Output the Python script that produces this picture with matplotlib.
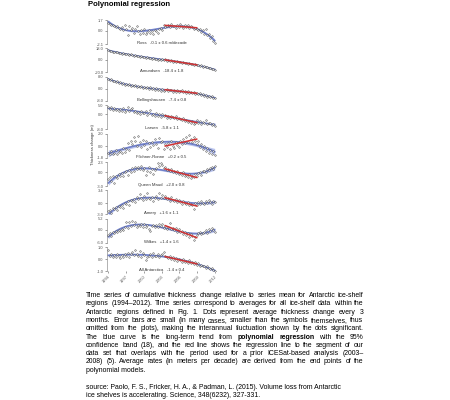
import numpy as np
import matplotlib
matplotlib.use("Agg")
import matplotlib.pyplot as plt

plt.rcParams['font.family'] = ['Liberation Sans', 'DejaVu Sans']

# ---------------------------------------------------------------- data
regions = ['Ross', 'Amundsen', 'Bellingshausen', 'Larsen', 'Filchner-Ronne',
           'Queen Maud', 'Amery', 'Wilkes', 'All Antarctica']
rates = ['-0.1 \u00b1 0.6 m/decade', '-18.4 \u00b1 1.8', '-7.4 \u00b1 0.8',
         '-5.8 \u00b1 1.1', '+0.2 \u00b1 0.5', '+2.0 \u00b1 0.8',
         '+1.6 \u00b1 1.1', '+1.4 \u00b1 1.6', '-1.4 \u00b1 0.4']
y_low = [-2.1, -20.0, -8.0, -8.0, -1.8, -3.0, -3.0, -6.0, -1.0]
y_high = [1.7, 18.0, 8.0, 5.0, 2.0, 2.3, 3.4, 5.2, 1.0]
poly_degree = [3, 3, 3, 3, 3, 3, 3, 3, 3]

# quarterly epochs 1994-2011
t_start = 1994.125
t_step = 0.25

ross = [1.25, 1.05, 0.85, 0.95, 0.7, 0.55, 0.75, 0.4, 0.25, 0.6, 0.1, 0.85,
        0.3, -0.6, 0.75, 0.05, 0.5, -0.3, 0.2, 0.8, -0.1, -0.45, 0.05, -0.3,
        0.3, -0.5, -0.15, 0.1, -0.35, -0.1, -0.55, 0.15, 0.0, -0.3, 0.25, 0.45,
        0.15, 0.85, 0.6, 0.75, 0.95, 0.55, 1.05, 0.7, 0.8, 0.45, 0.9, 0.65,
        1.0, 0.7, 0.5, 0.95, 0.6, 0.85, 0.4, 0.7, 0.55, 0.2, 0.45, 0.3,
        0.05, 0.35, -0.2, 0.1, -0.45, 0.2, -0.7, -0.5, -1.1, -0.9, -1.6, -1.9]
amundsen = [15.2, 13.6, 14.4, 12.1, 12.9, 11.8, 12.6, 10.7, 11.3, 9.6, 10.8, 9.9,
            8.7, 9.8, 7.6, 8.4, 7.9, 6.2, 7.3, 5.8, 6.4, 4.9, 5.7, 4.1,
            5.0, 3.2, 4.6, 2.9, 3.5, 1.8, 2.9, 1.2, 1.9, 0.4, 1.6, -0.3,
            0.6, -0.9, 0.8, -1.6, -0.8, -2.1, -0.6, -3.0, -2.2, -3.4, -1.9, -4.2,
            -3.6, -4.8, -3.1, -5.5, -5.0, -6.3, -4.9, -7.0, -6.6, -7.8, -6.9, -8.9,
            -8.4, -9.7, -9.0, -11.0, -10.6, -11.9, -11.3, -13.2, -12.8, -14.1, -15.0, -16.8]
bellingshausen = [6.8, 5.6, 6.2, 4.9, 5.4, 4.2, 5.0, 3.8, 4.4, 3.1, 4.0, 2.7,
                  3.5, 2.4, 3.3, 1.9, 2.8, 1.6, 2.5, 1.2, 2.0, 0.9, 1.8, 0.6,
                  1.5, 0.2, 1.1, -0.2, 0.9, -0.4, 0.6, -0.7, 0.3, -0.9, 0.1, -1.2,
                  -0.2, -1.4, -0.5, -0.3, -1.6, -0.6, -1.1, -2.0, -0.8, -1.9, -1.0, -2.3,
                  -1.4, -0.7, -2.2, -1.6, -2.5, -1.5, -2.8, -2.0, -3.1, -2.4, -3.6, -2.9,
                  -3.8, -3.0, -4.4, -3.7, -4.5, -3.9, -5.2, -4.6, -5.4, -4.8, -6.3, -6.0]
larsen = [4.2, 3.1, 3.8, 2.6, 3.3, 2.4, 3.0, 2.0, 2.7, 1.8, 3.4, 1.5,
          2.2, 3.8, 1.6, 2.9, 3.4, 1.2, 2.0, 0.8, 1.5, 0.4, 1.9, 0.9,
          0.6, 1.8, -0.2, 0.8, 2.6, -0.4, 0.4, -0.9, 0.7, -0.6, 0.2, -1.4,
          0.5, -0.8, -0.2, -1.7, -0.6, -1.9, -0.9, -1.3, -2.2, -1.1, -2.6, -1.8,
          -2.4, -3.1, -1.9, -3.5, -2.8, -4.2, -3.3, -4.8, -3.6, -5.0, -4.4, -2.9,
          -4.7, -3.6, -5.3, -4.1, -4.5, -3.2, -5.1, -4.4, -4.9, -5.6, -5.3, -6.1]
filchner_ronne = [-1.0, -1.3, -0.8, -1.2, -1.1, -0.6, -1.3, -0.9, -0.7, -1.1, -0.3, -0.9,
                  -0.4, 0.5, -0.6, 0.9, 0.3, 1.4, 0.8, 0.1, 1.6, 0.6, -0.2, 1.0,
                  0.2, 0.9, -0.4, 0.5, -0.1, 0.7, 0.2, 1.1, 0.4, -0.3, 1.3, 0.6,
                  0.8, -0.5, 0.3, -0.2, 0.5, -0.4, 0.9, 0.1, -0.3, 0.6, 0.2, -0.1,
                  0.9, 0.3, 1.2, 0.5, 1.4, 0.7, 1.7, 1.1, 0.6, 1.5, 0.9, 0.3,
                  0.8, -0.2, 0.4, -0.5, 0.1, -0.8, -0.3, -1.0, -0.6, -1.2, -0.8, -1.4]
queen_maud = [-1.5, -1.0, -1.8, -0.9, -2.4, -0.8, -1.2, -0.4, -0.7, -0.2, -0.9, 0.1,
              0.3, -0.5, 0.6, 0.2, 0.9, 0.4, 1.2, 0.7, 1.3, 0.8, 1.5, 0.5,
              0.9, -0.6, 0.4, 1.1, 0.2, 0.8, -0.3, 0.6, 1.0, 2.0, 1.4, 2.1,
              1.6, 0.9, 1.3, 0.6, 0.8, 0.3, 0.7, 0.1, 0.4, -0.2, 0.3, -0.4,
              -0.1, -0.6, 0.0, -0.8, -0.5, -1.0, -0.4, -1.2, -0.7, -1.1, -0.3, -0.9,
              -0.2, 0.1, -0.6, 0.3, 0.4, 0.0, 0.7, 0.5, 0.9, 1.2, 0.8, 1.4]
amery = [-2.2, -1.7, -2.5, -1.4, -1.6, -1.1, -1.9, -0.8, -1.0, -0.4, -1.3, 0.1,
         -0.2, 0.6, -0.5, 0.9, 0.5, 1.2, 0.3, 1.6, 1.1, 2.4, 1.4, 0.8,
         1.9, 1.2, 2.6, 1.5, 1.0, 1.7, 0.7, 1.4, 1.8, 1.2, 2.7, 1.5,
         2.3, 1.4, 1.9, 1.0, 1.3, 0.7, 1.6, 0.9, 0.5, 1.1, 0.2, 0.8,
         0.3, -0.2, 0.6, 0.0, -0.3, 0.2, -0.6, -0.1, -0.4, -1.6, 0.1, -0.5,
         0.2, -0.3, 0.5, 0.1, -0.2, 0.6, 0.0, 0.9, 0.3, -0.1, 0.7, 0.2]
wilkes = [-2.3, -1.4, -2.8, -1.0, -1.5, -0.6, -1.1, 0.2, -0.3, 0.6, 0.1, 1.2,
          3.5, 1.0, 3.9, 1.8, 4.0, 2.2, 3.6, 1.5, 2.4, 1.8, 2.9, 1.3,
          2.6, 1.6, 2.1, 0.4, -0.3, 1.9, 2.4, 1.2, 2.1, 1.4, 3.0, 1.7,
          2.6, 1.1, 2.0, 0.6, 1.3, 3.2, 0.5, 0.9, -0.2, 0.8, -0.8, 0.3,
          -1.1, -0.3, -1.8, -0.9, -2.2, -1.4, -3.1, -2.0, -2.8, -4.6, -3.5, -2.3,
          -1.6, -0.8, -2.0, -1.2, -0.9, -0.2, -1.3, 0.4, -0.5, 0.9, -0.1, -0.8]
all_antarctica = [0.75, 0.3, 0.4, 0.2, 0.35, 0.15, 0.4, 0.25, 0.1, 0.35, 0.2, 0.45,
                  0.3, 0.5, 0.15, 0.4, 0.6, 0.35, 0.8, 0.45, 0.3, 0.7, 0.2, 0.5,
                  0.35, -0.1, 0.15, 0.3, 0.4, 0.2, 0.5, 0.3, 0.25, 0.4, 0.15, 0.35,
                  0.45, 0.6, 0.3, 0.2, 0.1, 0.25, 0.0, 0.15, -0.05, 0.1, -0.15, 0.05,
                  -0.1, -0.25, 0.0, -0.2, -0.15, -0.3, -0.1, -0.35, -0.25, -0.4, -0.2, -0.45,
                  -0.35, -0.55, -0.45, -0.6, -0.55, -0.7, -0.6, -0.75, -0.8, -0.75, -0.9, -0.95]

series = [ross, amundsen, bellingshausen, larsen, filchner_ronne,
          queen_maud, amery, wilkes, all_antarctica]

# ICESat period used for the red segment fit
icesat_start, icesat_end = 2003.5, 2009.0

x_ticks = [1994, 1997, 2000, 2003, 2006, 2009, 2012]

title = 'Polynomial regression'
caption = [
    [('Time series of cumulative thickness change relative to series mean for Antarctic ice-shelf', 'normal')],
    [('regions (1994\u20132012). Time series correspond to averages for all ice-shelf data within the', 'normal')],
    [('Antarctic regions defined in Fig. 1. Dots represent average thickness change every 3', 'normal')],
    [('months. Error bars are small (in many cases, smaller than the symbols themselves, thus', 'normal')],
    [('omitted from the plots), making the interannual fluctuation shown by the dots significant.', 'normal')],
    [('The blue curve is the long-term trend from', 'normal'), ('polynomial regression', 'bold'),
     ('with the 95%', 'normal')],
    [('confidence band (18), and the red line shows the regression line to the segment of our', 'normal')],
    [('data set that overlaps with the period used for a prior ICESat-based analysis (2003\u2013', 'normal')],
    [('2008) (5). Average rates (in meters per decade) are derived from the end points of the', 'normal')],
    [('polynomial models.', 'normal')],
]
source = ['source: Paolo, F. S., Fricker, H. A., & Padman, L. (2015). Volume loss from Antarctic',
          'ice shelves is accelerating. Science, 348(6232), 327-331.']

# ---------------------------------------------------------------- figure
W, H = 450, 400
fig = plt.figure(figsize=(W / 100, H / 100), dpi=100)
fig.patch.set_facecolor('white')

blue = '#7080ca'
band = '#bcc6ee'
red = '#d03333'
dot_edge = '#444444'
ink = '#000000'

ax_left, ax_width = 107, 109
panel_top0, panel_step, panel_h = 20, 28.4, 24

axes = []
for k, (name, rate, lo, hi, deg, vals) in enumerate(
        zip(regions, rates, y_low, y_high, poly_degree, series)):
    top = panel_top0 + panel_step * k
    ax = fig.add_axes([ax_left / W, 1 - (top + panel_h) / H, ax_width / W, panel_h / H])
    axes.append(ax)
    y = np.asarray(vals, dtype=float)
    t = t_start + t_step * np.arange(len(y))

    # long-term polynomial trend with 95% confidence band
    tn = (t - 2003.0) / 9.0
    X = np.vander(tn, deg + 1)
    beta, *_ = np.linalg.lstsq(X, y, rcond=None)
    resid = y - X @ beta
    s2 = resid @ resid / (len(y) - deg - 1)
    cov = s2 * np.linalg.inv(X.T @ X)
    tg = np.linspace(t[0], t[-1], 200)
    Xg = np.vander((tg - 2003.0) / 9.0, deg + 1)
    fit = Xg @ beta
    se = np.sqrt(np.einsum('ij,jk,ik->i', Xg, cov, Xg))
    ax.fill_between(tg, fit - 1.96 * se, fit + 1.96 * se, color=band, lw=0, zorder=1)
    ax.plot(tg, fit, color=blue, lw=1.2, zorder=2)

    ax.plot(t, y, 'o', ms=1.1, mfc='#f4f4f4', mec=dot_edge, mew=0.35, zorder=3)

    # linear regression over the ICESat window
    m = (t >= icesat_start) & (t <= icesat_end)
    p = np.polyfit(t[m], y[m], 1)
    tr = np.array([t[m][0], t[m][-1]])
    ax.plot(tr, np.polyval(p, tr), color=red, lw=1.1, zorder=4)

    ax.set_xlim(1993.9, 2012.1)
    ax.set_ylim(lo, hi)
    ax.set_yticks([lo, 0.0, hi])
    ax.set_yticklabels([f'{lo:.1f}', '0.0', f'{hi:.1f}'])
    ax.set_xticks(x_ticks)
    for s in ('top', 'right', 'bottom'):
        ax.spines[s].set_visible(False)
    ax.spines['left'].set_linewidth(0.4)
    ax.spines['left'].set_color('#777777')
    ax.tick_params(axis='y', length=1.5, width=0.4, pad=1, labelsize=2.9,
                   colors='#555555')
    if k == len(regions) - 1:
        ax.tick_params(axis='x', length=1.5, width=0.4, pad=1, labelsize=2.9,
                       colors='#555555')
        ax.set_xticklabels([str(v) for v in x_ticks], rotation=45, ha='right',
                           rotation_mode='anchor')
    else:
        ax.tick_params(axis='x', length=0, labelbottom=False)
    ax.set_facecolor('none')
    ax.text(0.5, 0.04, f'{name}   {rate}', transform=ax.transAxes, ha='center',
            va='center', fontsize=3.1, color='#333333', zorder=5)

fig.text(93 / W, 1 - 145 / H, 'Thickness change (m)', rotation=90, ha='center',
         va='center', fontsize=3.1, color='#333333')

fig.text(88 / W, 1 - 5 / H, title, fontsize=5.5, weight='bold', ha='left',
         va='center', color=ink)

# ---------------------------------------------------------------- caption
renderer = fig.canvas.get_renderer()
text_left, text_right = 86.0, 363.5
line_y0, line_dy = 295.7, 8.28


def text_width(s, size, weight='normal'):
    a = fig.text(0, 0, s, fontsize=size, weight=weight)
    w = a.get_window_extent(renderer).width
    a.remove()
    return w


# body size chosen so the tightest caption line just fills the column
tight_line = caption[4][0][0]
fs = 5.0 * (text_right - text_left - 2.0) / text_width(tight_line, 5.0)
space_px = text_width('a a', fs) - text_width('aa', fs)


def place_justified(chunks, ypx):
    words = []
    for txt, wt in chunks:
        for w in txt.split(' '):
            words.append((w, wt))
    arts = [fig.text(0, 1 - ypx / H, w, fontsize=fs, weight=wt, ha='left',
                     va='center', color=ink) for w, wt in words]
    widths = [a.get_window_extent(renderer).width for a in arts]
    gap = (text_right - text_left - sum(widths)) / (len(arts) - 1)
    gap = max(gap, 0.6 * space_px)
    x = text_left
    for a, wd in zip(arts, widths):
        a.set_x(x / W)
        x += wd + gap


for i, chunks in enumerate(caption):
    ypx = line_y0 + line_dy * i
    if i < len(caption) - 1:
        place_justified(chunks, ypx)
    else:
        fig.text(text_left / W, 1 - ypx / H, chunks[0][0], fontsize=fs,
                 ha='left', va='center', color=ink)

for i, ln in enumerate(source):
    fig.text(text_left / W, 1 - (387.3 + 8.6 * i) / H, ln, fontsize=fs,
             ha='left', va='center', color=ink)

fig.savefig('out.png', dpi=100, facecolor='white')
